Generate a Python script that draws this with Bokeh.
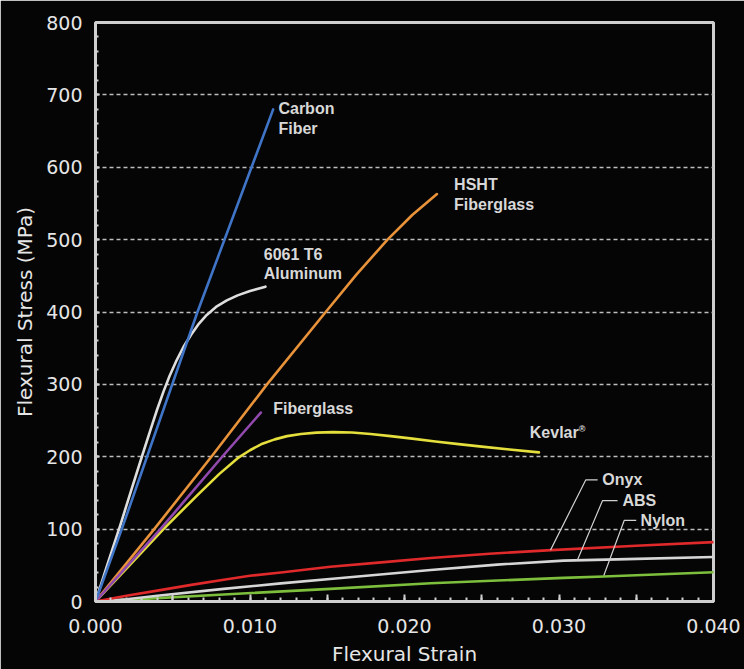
from bokeh.plotting import figure
from bokeh.models import Range1d, FixedTicker, ColumnDataSource
from bokeh.core.properties import value
from bokeh.embed import file_html
from bokeh.resources import INLINE

# ---- data ----
carbon_strain = [0, 0.0017, 0.0066, 0.0115]
carbon_stress = [0, 100, 400, 680]

alu_strain = [0, 0.0008, 0.0016, 0.0023, 0.0030, 0.0036, 0.0040, 0.0044, 0.0048, 0.0052, 0.0057, 0.0062,
              0.0067, 0.0072, 0.0078, 0.0085, 0.0092, 0.0100, 0.0110]
alu_stress = [0, 53, 105, 153, 200, 240, 266, 290, 312, 331, 352, 369,
              384, 396, 407, 416, 423, 429, 435]

hsht_strain = [0, 0.0038, 0.0075, 0.0111, 0.0149, 0.0169, 0.0189, 0.0205, 0.0221]
hsht_stress = [0, 100, 200, 300, 400, 452, 500, 534, 563]

fg_strain = [0, 0.0042, 0.0082, 0.0107]
fg_stress = [0, 100, 200, 261]

kevlar_strain = [0, 0.0022, 0.0044, 0.0065, 0.0080, 0.0092, 0.0100, 0.0108, 0.0116, 0.0124, 0.0133,
                 0.0143, 0.0154, 0.0166, 0.0178, 0.0191, 0.0205, 0.0220, 0.0235, 0.0250, 0.0268, 0.0287]
kevlar_stress = [0, 50, 100, 145, 176, 198, 209, 218, 224, 228.5, 231.5,
                 233.3, 234, 233.5, 231.5, 228.5, 225, 221, 217.5, 214, 210, 206]

onyx_strain = [0, 0.002, 0.004, 0.0062, 0.0083, 0.010, 0.012, 0.0152, 0.0185, 0.0217, 0.0255, 0.0295, 0.035, 0.040]
onyx_stress = [0, 8, 15, 23, 30, 35.5, 40, 48, 54, 60, 66, 71, 77, 82]

abs_strain = [0, 0.002, 0.004, 0.0083, 0.012, 0.0159, 0.0217, 0.026, 0.0303, 0.0344, 0.040]
abs_stress = [0, 3, 8, 17.5, 25, 32.5, 43.5, 51, 56.5, 58.5, 61.5]

nylon_strain = [0, 0.004, 0.0083, 0.0152, 0.0217, 0.0303, 0.0329, 0.040]
nylon_stress = [0, 4.6, 9.7, 17.5, 25.3, 32.7, 34.5, 40.5]

x_ticks = [0.0, 0.005, 0.01, 0.015, 0.02, 0.025, 0.03, 0.035, 0.04]
x_tick_labels = ["0.000", "", "0.010", "", "0.020", "", "0.030", "", "0.040"]
y_ticks = [0, 100, 200, 300, 400, 500, 600, 700, 800]
grid_ticks = [100, 200, 300, 400, 500, 600, 700]

label_text = ["Carbon", "Fiber", "6061 T6", "Aluminum", "HSHT", "Fiberglass", "Fiberglass", "Kevlar", "Onyx", "ABS", "Nylon"]
label_x = [0.01184, 0.01184, 0.01089, 0.01089, 0.02321, 0.02321, 0.0115, 0.02811, 0.0328, 0.03411, 0.03528]
label_y = [681, 653, 480, 453, 576, 548, 266, 233, 168, 139.5, 112]

leader_xs = [[0.02945, 0.03173, 0.0325], [0.03118, 0.03282, 0.03379], [0.0329, 0.03422, 0.0350]]
leader_ys = [[71, 168, 168], [56.6, 139.5, 139.5], [36, 112, 112]]

BG = "#050505"
FRAME = "#cfcfcf"
TXT = "#e6e6e6"

p = figure(width=744, height=669, output_backend="svg", toolbar_location=None,
           x_range=Range1d(0, 0.04), y_range=Range1d(0, 800),
           background_fill_color=BG, border_fill_color=BG,
           min_border_left=95, min_border_right=31, min_border_top=22, min_border_bottom=68)

p.outline_line_color = FRAME
p.outline_line_width = 3

# axes
xa = p.xaxis[0]
xa.ticker = FixedTicker(ticks=x_ticks, minor_ticks=[i * 0.001 for i in range(41)])
xa.major_label_overrides = {t: l for t, l in zip(x_ticks, x_tick_labels)}
ya = p.yaxis[0]
ya.ticker = FixedTicker(ticks=y_ticks, minor_ticks=list(range(0, 801, 20)))

for ax in (xa, ya):
    ax.axis_line_color = FRAME
    ax.axis_line_width = 3
    ax.major_tick_line_color = FRAME
    ax.minor_tick_line_color = FRAME
    ax.major_tick_line_width = 2
    ax.minor_tick_line_width = 2
    ax.major_tick_out = 0
    ax.minor_tick_out = 0
    ax.major_label_text_font = "DejaVu Sans"
    ax.major_label_text_font_size = "19px"
    ax.major_label_text_color = TXT
    ax.axis_label_text_font = "DejaVu Sans"
    ax.axis_label_text_font_size = "20px"
    ax.axis_label_text_font_style = "normal"
    ax.axis_label_text_color = TXT

xa.major_tick_in = 7
xa.minor_tick_in = 4
ya.major_tick_in = 4
ya.minor_tick_in = 3
xa.axis_label = "Flexural Strain"
ya.axis_label = "Flexural Stress (MPa)"
xa.major_label_standoff = 17
xa.axis_label_standoff = 6
ya.major_label_standoff = 13
ya.axis_label_standoff = 6

p.xgrid.visible = False
p.ygrid.ticker = FixedTicker(ticks=grid_ticks)
p.ygrid.grid_line_color = "#bdbdbd"
p.ygrid.grid_line_dash = "4 3"
p.ygrid.grid_line_width = 1.3

# curves
curves = [
    (alu_strain, alu_stress, "#dedede"),
    (hsht_strain, hsht_stress, "#e8923a"),
    (kevlar_strain, kevlar_stress, "#e4df3c"),
    (fg_strain, fg_stress, "#9249ad"),
    (carbon_strain, carbon_stress, "#3f74c6"),
    (nylon_strain, nylon_stress, "#7dbf3c"),
    (abs_strain, abs_stress, "#d6d6d6"),
    (onyx_strain, onyx_stress, "#e0292b"),
]
for xs, ys, c in curves:
    p.line(xs, ys, line_color=c, line_width=2.6, line_cap="round", line_join="round")

# leaders
p.multi_line(xs=leader_xs, ys=leader_ys, line_color="#d0d0d0", line_width=1.2)

# labels
src = ColumnDataSource(dict(x=label_x, y=label_y, text=label_text))
p.text(x="x", y="y", text="text", source=src,
       text_font=value("Liberation Sans"), text_font_style="bold",
       text_font_size="16px", text_color="#d8d8d8",
       text_baseline="middle", text_align="left")
# registered mark after "Kevlar"
p.text(x=[0.03128], y=[238], text=["®"],
       text_font=value("Liberation Sans"), text_font_style="bold",
       text_font_size="9px", text_color="#d8d8d8",
       text_baseline="middle", text_align="left")

open("out.html", "w").write(file_html(p, INLINE))
